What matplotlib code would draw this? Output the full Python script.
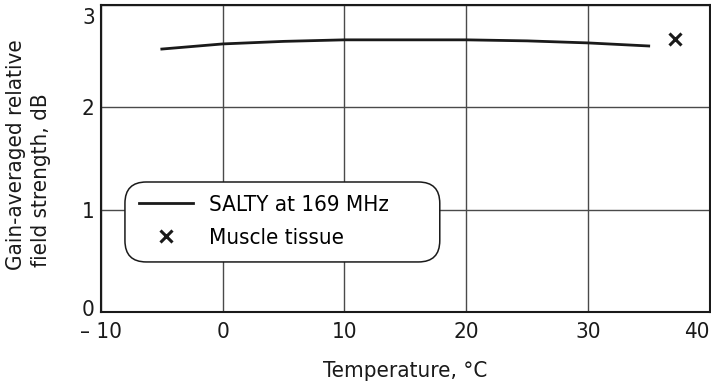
import matplotlib
matplotlib.use("Agg")
import matplotlib.pyplot as plt
from matplotlib import font_manager
from matplotlib.patches import FancyBboxPatch
from matplotlib.transforms import ScaledTranslation

# Pick a narrow/condensed sans face if one is installed
def _is_narrow(f):
    return ("Narrow" in f.name or "Condensed" in f.name
            or str(f.stretch) in ("condensed", "semi-condensed", "extra-condensed"))

cands = [f for f in font_manager.fontManager.ttflist
         if _is_narrow(f) and f.style == "normal" and f.weight in (400, "normal", "regular")]
cands.sort(key=lambda f: (0 if "Liberation" in f.name else 1 if "DejaVu" in f.name else 2))
if cands:
    plt.rcParams["font.family"] = [cands[0].name, "DejaVu Sans"]
    plt.rcParams["font.stretch"] = cands[0].stretch
else:
    plt.rcParams["font.family"] = ["DejaVu Sans"]

# SALTY phantom at 169 MHz
salty_temp = [-5, 0, 5, 10, 15, 20, 25, 30, 35]
salty_db = [2.57, 2.62, 2.645, 2.66, 2.66, 2.66, 2.65, 2.63, 2.60]

# Muscle tissue reference point
muscle_temp = [37.2]
muscle_db = [2.67]

x_ticks = [-10, 0, 10, 20, 30, 40]
x_labels = ["\u2013 10", "0", "10", "20", "30", "40"]
y_ticks = [0, 1, 2, 3]

ink = "#1a1a1a"

fig = plt.figure(figsize=(7.11, 3.89), dpi=100)
ax = fig.add_axes([0.142, 0.198, 0.856, 0.789])

ax.plot(salty_temp, salty_db, color=ink, lw=2.0, label="SALTY at 169 MHz")
ax.plot(muscle_temp, muscle_db, ls="none", marker="x", ms=8, mew=2.2,
        color=ink, label="Muscle tissue")

ax.set_xlim(-10, 40)
ax.set_ylim(0, 3)
ax.set_xticks(x_ticks)
ax.set_xticklabels(x_labels)
ax.set_yticks(y_ticks)
ax.tick_params(length=0, labelsize=16, colors=ink)
ax.tick_params(axis="x", pad=7)
ax.tick_params(axis="y", pad=4.5)
ax.grid(True, color="#4a4a4a", lw=1.0)
for s in ax.spines.values():
    s.set_color(ink)
    s.set_linewidth(1.5)

# keep end labels inside the figure
xl = ax.get_xticklabels()
xl[-1].set_horizontalalignment("right")
yl = ax.get_yticklabels()
yl[-1].set_transform(yl[-1].get_transform() + ScaledTranslation(0, -0.11, fig.dpi_scale_trans))
yl[0].set_transform(yl[0].get_transform() + ScaledTranslation(0, 0.04, fig.dpi_scale_trans))

ax.set_xlabel("Temperature, \u00b0C", fontsize=16, labelpad=14, color=ink)

# two-line axis title on the left
fig.text(16 / 711, 1 - 155 / 389, "Gain-averaged relative", rotation=90,
         ha="center", va="center", fontsize=16, color=ink)
fig.text(41 / 711, 1 - 180 / 389, "field strength, dB", rotation=90,
         ha="center", va="center", fontsize=16, color=ink)

# legend entries with a rounded frame around them
leg = ax.legend(loc="upper left", bbox_to_anchor=(0.0624, 0.381), fontsize=16,
                frameon=False, handlelength=2.45, handletextpad=0.7,
                borderpad=0, labelspacing=0.58, borderaxespad=0)
box = FancyBboxPatch((0.0394, 0.163), 0.5173, 0.2605,
                     boxstyle="round,pad=0,rounding_size=0.035",
                     transform=ax.transAxes, mutation_aspect=609 / 307,
                     facecolor="white", edgecolor=ink, lw=1.1, zorder=4)
ax.add_patch(box)
leg.set_zorder(5)

fig.savefig("out.png", dpi=100)
